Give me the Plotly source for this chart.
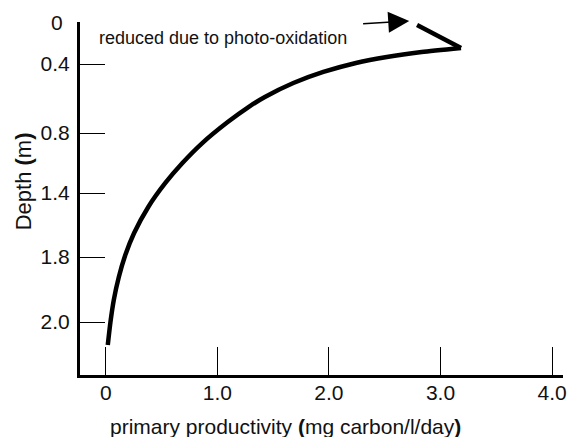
import plotly.graph_objects as go

# Curve (productivity in mg C/l/day, depth in axis units)
prod = [0.018, 0.042, 0.072, 0.117, 0.175, 0.254, 0.381, 0.534, 0.687, 0.865,
        1.093, 1.279, 1.426, 1.681, 1.950, 2.242, 2.519, 2.831, 3.184]
depth = [2.153, 2.0, 1.853, 1.7, 1.553, 1.407, 1.233, 1.073, 0.94, 0.807,
         0.667, 0.567, 0.5, 0.407, 0.333, 0.273, 0.233, 0.2, 0.173]
# photo-oxidation kink at the surface
kink_prod = [3.184, 2.79]
kink_depth = [0.173, 0.02]

x_tickvals = [0, 1, 2, 3, 4]
x_ticktext = ["0", "1.0", "2.0", "3.0", "4.0"]
y_tickvals = [0.28, 0.74, 1.14, 1.567, 2.0]
y_ticktext = ["0.4", "0.8", "1.4", "1.8", "2.0"]

FONT = "Liberation Sans, Arial, sans-serif"
TXT = "#111"

fig = go.Figure()
fig.add_trace(go.Scatter(x=prod, y=depth, mode="lines",
                         line=dict(color="black", width=4.5, shape="spline", smoothing=0.6),
                         hoverinfo="skip", showlegend=False))
fig.add_trace(go.Scatter(x=kink_prod, y=kink_depth, mode="lines",
                         line=dict(color="black", width=4.5),
                         hoverinfo="skip", showlegend=False))

fig.update_layout(
    width=568, height=437,
    margin=dict(l=80, r=1, t=22, b=62),
    paper_bgcolor="white", plot_bgcolor="white",
    font=dict(family=FONT, color=TXT),
    xaxis=dict(range=[-0.231, 4.098], showgrid=False, zeroline=False,
               showline=True, linecolor="black", linewidth=3,
               ticks="inside", ticklen=28, tickwidth=1.2, tickcolor="black",
               tickvals=x_tickvals, ticktext=x_ticktext, ticklabeloverflow="allow",
               tickfont=dict(size=21, color=TXT), ticklabelstandoff=-3),
    yaxis=dict(range=[2.3533, 0], showgrid=False, zeroline=False,
               showline=True, linecolor="black", linewidth=3,
               ticks="inside", ticklen=25, tickwidth=1.2, tickcolor="black",
               tickvals=y_tickvals, ticktext=y_ticktext,
               tickfont=dict(size=21, color=TXT), ticklabelstandoff=3),
)

fig.add_annotation(x=0, y=0, xref="paper", yref="y", text="0", showarrow=False,
                   xanchor="right", yanchor="middle", xshift=-15,
                   font=dict(size=21, color=TXT))
fig.add_annotation(x=-0.117, y=0.55, xref="paper", yref="paper",
                   text="Depth <b>(</b>m<b>)</b>", textangle=-90, showarrow=False,
                   xanchor="center", yanchor="middle",
                   font=dict(size=22, color=TXT))
fig.add_annotation(x=0.426, y=-0.147, xref="paper", yref="paper",
                   text="primary productivity <b>(</b>mg carbon/l/day<b>)</b>", showarrow=False,
                   xanchor="center", yanchor="middle",
                   font=dict(size=21, color=TXT))
fig.add_annotation(x=-0.08, y=0.107, xref="x", yref="y", text="reduced due to photo-oxidation",
                   showarrow=False, xanchor="left", yanchor="middle",
                   font=dict(size=18, color=TXT))
fig.add_annotation(x=2.72, y=-0.007, xref="x", yref="y", ax=2.293, ay=0.013,
                   axref="x", ayref="y", text="", showarrow=True,
                   arrowhead=2, arrowsize=2.8, arrowwidth=1.5, arrowcolor="black")

fig.write_html("out.html")
